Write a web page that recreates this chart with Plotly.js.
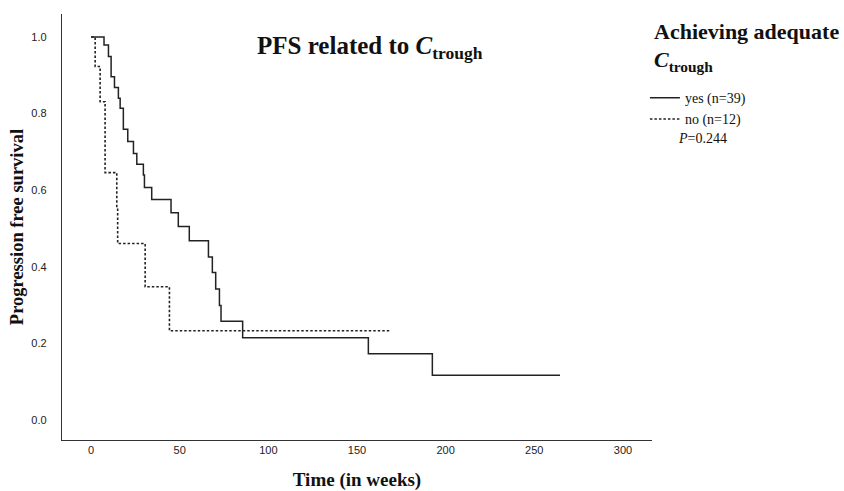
<!DOCTYPE html>
<html>
<head>
<meta charset="utf-8">
<script src="https://cdn.plot.ly/plotly-3.0.1.min.js"></script>
<style>
html,body{margin:0;padding:0;background:#fff;}
#chart{width:844px;height:491px;}
</style>
</head>
<body>
<div id="chart"></div>
<script>
// Kaplan-Meier step data (time in weeks, survival proportion)
const yesTimes = [0, 7.3, 9.8, 11.3, 13.2, 15.4, 16.4, 18.2, 20.7, 23.9, 25.8, 29.5, 30.1, 34.2, 45.1, 49.2, 55.4, 66.2, 68.4, 70.3, 72.4, 73.3, 85.5, 156.4, 192.5, 264.5];
const yesSurv  = [1.0, 0.979, 0.949, 0.896, 0.868, 0.840, 0.814, 0.759, 0.727, 0.696, 0.668, 0.640, 0.607, 0.576, 0.541, 0.505, 0.468, 0.426, 0.385, 0.342, 0.299, 0.258, 0.215, 0.173, 0.117, 0.117];
const noTimes  = [0, 2.3, 5.1, 7.9, 14.5, 15.0, 30.5, 44.2, 168.2];
const noSurv   = [1.0, 0.923, 0.831, 0.646, 0.553, 0.461, 0.348, 0.233, 0.233];
const seriesNames = ['yes (n=39)', 'no (n=12)'];
const xTicks = [0, 50, 100, 150, 200, 250, 300];
const yTicks = [0.0, 0.2, 0.4, 0.6, 0.8, 1.0];
const yTickText = ['0.0', '0.2', '0.4', '0.6', '0.8', '1.0'];
const legendTitle1 = '<b>Achieving adequate</b>';
const legendTitle2 = '<b><i>C</i><sub>trough</sub></b>';
const pValueText = '<i>P</i>=0.244';

const serif = 'Liberation Serif, Times New Roman, serif';
const sans = 'Liberation Sans, Arial, sans-serif';

const traces = [
  {x: yesTimes, y: yesSurv, name: seriesNames[0], type: 'scatter', mode: 'lines',
   line: {shape: 'hv', color: '#222', width: 1.5}},
  {x: noTimes, y: noSurv, name: seriesNames[1], type: 'scatter', mode: 'lines',
   line: {shape: 'hv', color: '#222', width: 1.6, dash: '2.5px,2px'}}
];

const layout = {
  width: 844, height: 491,
  paper_bgcolor: '#fff', plot_bgcolor: '#fff',
  margin: {l: 62, r: 192, t: 14, b: 51},
  showlegend: true,
  legend: {
    x: 0.988, xanchor: 'left', y: 0.84, yanchor: 'top',
    font: {family: serif, size: 14, color: '#111'},
    itemwidth: 30, tracegroupgap: 0, bgcolor: 'rgba(0,0,0,0)'
  },
  xaxis: {
    range: [-16.4, 316.4], tickvals: xTicks, ticks: '', showgrid: false, zeroline: false,
    showline: true, linecolor: '#333', linewidth: 1.2,
    tickfont: {family: sans, size: 11, color: '#222'},
    title: {text: '<b>Time (in weeks)</b>', font: {family: serif, size: 19, color: '#111'}, standoff: 17}
  },
  yaxis: {
    range: [-0.052, 1.06], tickvals: yTicks, ticktext: yTickText, ticks: '', showgrid: false, zeroline: false,
    showline: true, linecolor: '#333', linewidth: 1.2,
    ticklabelstandoff: 12,
    tickfont: {family: sans, size: 11, color: '#222'},
    title: {text: '<b>Progression free survival</b>', font: {family: serif, size: 18.5, color: '#111'}, standoff: 2}
  },
  annotations: [
    {text: '<b>PFS related to <i>C</i><sub>trough</sub></b>', xref: 'paper', yref: 'paper', x: 0.522, y: 0.922,
     xanchor: 'center', yanchor: 'middle', showarrow: false, font: {family: serif, size: 25, color: '#111'}},
    {text: legendTitle1, xref: 'paper', yref: 'paper', x: 1.0, y: 0.958, xanchor: 'left', yanchor: 'middle',
     showarrow: false, font: {family: serif, size: 22, color: '#111'}},
    {text: legendTitle2, xref: 'paper', yref: 'paper', x: 1.0, y: 0.89, xanchor: 'left', yanchor: 'middle',
     showarrow: false, font: {family: serif, size: 22, color: '#111'}},
    {text: pValueText, xref: 'paper', yref: 'paper', x: 1.041, y: 0.707, xanchor: 'left', yanchor: 'middle',
     showarrow: false, font: {family: serif, size: 14, color: '#111'}}
  ]
};

Plotly.newPlot('chart', traces, layout, {displayModeBar: false, staticPlot: true});
</script>
</body>
</html>
